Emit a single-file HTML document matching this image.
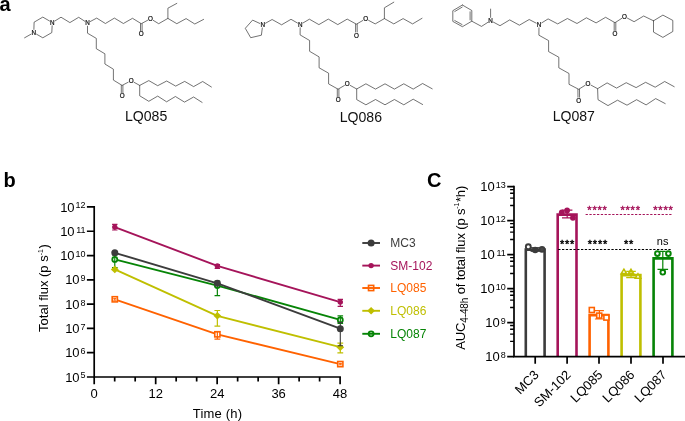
<!DOCTYPE html>
<html lang="en"><head><meta charset="utf-8"><title>Figure</title>
<style>html,body{margin:0;padding:0;background:#fff}body{width:685px;height:421px;overflow:hidden}svg{display:block}text{font-family:"Liberation Sans", Arial, sans-serif}</style>
</head><body>
<svg width="685" height="421" viewBox="0 0 685 421">
<rect width="685" height="421" fill="#fff"/>
<g id="panel-a">
<text x="-0.5" y="10.6" font-size="20" font-weight="bold">a</text>
<path d="M49.53 21.00L42.80 17.10L34.10 22.20L33.89 29.40M36.57 34.20L42.80 37.80L51.80 32.60L52.14 25.80M31.01 34.17L24.60 37.80M55.02 20.91L61.00 17.20L69.90 22.60L78.70 17.30L84.81 21.26M90.32 21.50L96.70 18.10L105.40 23.50L114.40 18.10L123.40 23.50L132.50 18.30L141.30 23.70L147.60 20.28M153.32 20.42L158.70 23.70L167.90 18.40L176.80 23.70L186.10 18.60L194.80 24.00L203.60 19.40M167.90 18.40L167.90 8.20L176.80 3.40M140.50 23.70L140.50 30.90M142.10 23.70L142.10 30.90M87.50 26.20L87.50 33.20L96.30 38.40L96.30 48.70L104.90 53.80L104.90 64.00L113.40 69.20L113.40 80.10L122.10 85.40L128.17 82.23M121.30 85.40L121.30 92.60M122.90 85.40L122.90 92.60M134.00 82.28L139.70 85.40L148.80 80.60L157.70 85.70L166.70 81.00L175.70 86.10L184.70 81.40L193.60 86.60L202.70 81.50L211.40 87.00M139.70 85.40L139.70 95.80L148.80 101.30L157.70 96.10L166.60 101.80L175.40 96.50L184.50 102.10L193.60 97.00L202.10 102.40" fill="none" stroke="#303030" stroke-width="0.68" stroke-linecap="round" stroke-linejoin="round"/>
<text x="52.30" y="24.85" font-size="6.3" text-anchor="middle" fill="#111" stroke="#111" stroke-width="0.22">N</text>
<text x="33.80" y="34.85" font-size="6.3" text-anchor="middle" fill="#111" stroke="#111" stroke-width="0.22">N</text>
<text x="87.50" y="25.25" font-size="6.3" text-anchor="middle" fill="#111" stroke="#111" stroke-width="0.22">N</text>
<text x="150.50" y="20.95" font-size="6.3" text-anchor="middle" fill="#111" stroke="#111" stroke-width="0.22">O</text>
<text x="141.30" y="36.45" font-size="6.3" text-anchor="middle" fill="#111" stroke="#111" stroke-width="0.22">O</text>
<text x="131.10" y="82.95" font-size="6.3" text-anchor="middle" fill="#111" stroke="#111" stroke-width="0.22">O</text>
<text x="122.10" y="98.15" font-size="6.3" text-anchor="middle" fill="#111" stroke="#111" stroke-width="0.22">O</text>
<path d="M259.80 23.45L252.60 20.10L245.30 28.30L250.70 37.70L261.40 35.20L262.30 27.98M265.49 23.23L272.10 19.50L281.60 24.80L291.00 19.30L297.43 23.00M302.96 22.98L309.40 19.20L318.90 24.60L328.30 19.10L337.80 24.60L347.20 19.10L356.40 24.20L362.85 20.46M368.61 20.36L375.20 23.90L384.40 18.60L393.80 23.90L403.10 18.60L412.60 23.90L422.00 18.30M384.40 18.60L384.40 7.80L393.80 2.20M355.60 24.20L355.60 32.00M357.20 24.20L357.20 32.00M300.17 27.80L300.10 34.90L309.60 40.50L309.60 51.30L319.10 56.90L319.10 67.80L328.60 73.20L328.60 83.90L338.10 89.20L344.45 85.47M337.30 89.20L337.30 96.80M338.90 89.20L338.90 96.80M350.19 85.40L356.70 89.00L365.90 83.80L375.50 89.10L385.00 83.80L394.40 89.10L403.80 83.80L413.20 89.10L422.60 83.50L432.20 88.80M356.70 89.00L356.70 99.60L365.90 104.80L375.50 99.50L385.00 104.80L394.40 99.50L403.80 104.80L413.20 99.20L422.60 104.50" fill="none" stroke="#303030" stroke-width="0.68" stroke-linecap="round" stroke-linejoin="round"/>
<text x="262.70" y="27.05" font-size="6.3" text-anchor="middle" fill="#111" stroke="#111" stroke-width="0.22">N</text>
<text x="300.20" y="26.85" font-size="6.3" text-anchor="middle" fill="#111" stroke="#111" stroke-width="0.22">N</text>
<text x="365.70" y="21.05" font-size="6.3" text-anchor="middle" fill="#111" stroke="#111" stroke-width="0.22">O</text>
<text x="356.40" y="37.55" font-size="6.3" text-anchor="middle" fill="#111" stroke="#111" stroke-width="0.22">O</text>
<text x="347.30" y="86.05" font-size="6.3" text-anchor="middle" fill="#111" stroke="#111" stroke-width="0.22">O</text>
<text x="338.10" y="102.35" font-size="6.3" text-anchor="middle" fill="#111" stroke="#111" stroke-width="0.22">O</text>
<path d="M462.40 5.00L471.80 10.50L471.80 21.20L462.40 26.70L452.80 21.40L452.80 10.70L462.40 5.00M454.79 11.50L462.15 7.13M470.10 11.80L470.10 19.90M462.08 24.58L454.76 20.54M471.80 21.20L481.50 26.40L487.90 22.32M490.60 17.40L490.60 9.10M493.41 22.13L500.00 25.70L509.70 19.90L519.40 25.20L529.20 19.50L536.16 23.12M541.71 22.90L548.10 18.90L557.70 23.90L567.40 18.50L577.00 23.50L586.40 17.80L596.10 22.90L605.60 17.30L615.00 22.70L621.72 18.38M627.41 18.15L634.10 21.70L643.70 16.00L653.50 20.80M653.50 20.80L662.90 15.10L672.80 20.40L672.80 31.50L662.90 37.40L653.50 32.10L653.50 20.80M614.20 22.70L614.20 30.50M615.80 22.70L615.80 30.50M538.97 27.80L538.90 35.20L548.60 40.60L548.60 51.60L558.80 57.20L558.80 67.80L569.00 73.50L569.00 84.30L578.70 89.30L585.20 85.25M577.90 89.31L577.97 97.21M579.50 89.29L579.57 97.19M590.90 85.07L597.60 88.70L607.10 82.90L616.60 88.10L626.20 82.70L636.10 87.60L645.60 82.30L655.20 87.20L664.70 81.50L674.20 86.70M597.60 88.70L598.00 99.70L608.00 105.60L617.50 100.20L627.00 105.20L636.60 99.70L646.10 104.90L655.70 98.60L665.20 103.60" fill="none" stroke="#303030" stroke-width="0.68" stroke-linecap="round" stroke-linejoin="round"/>
<text x="490.60" y="22.85" font-size="6.3" text-anchor="middle" fill="#111" stroke="#111" stroke-width="0.22">N</text>
<text x="539.00" y="26.85" font-size="6.3" text-anchor="middle" fill="#111" stroke="#111" stroke-width="0.22">N</text>
<text x="624.50" y="18.85" font-size="6.3" text-anchor="middle" fill="#111" stroke="#111" stroke-width="0.22">O</text>
<text x="615.00" y="36.05" font-size="6.3" text-anchor="middle" fill="#111" stroke="#111" stroke-width="0.22">O</text>
<text x="588.00" y="85.75" font-size="6.3" text-anchor="middle" fill="#111" stroke="#111" stroke-width="0.22">O</text>
<text x="578.80" y="102.75" font-size="6.3" text-anchor="middle" fill="#111" stroke="#111" stroke-width="0.22">O</text>
<text x="146.1" y="120.6" font-size="14.1" text-anchor="middle" fill="#111">LQ085</text>
<text x="360.9" y="122.0" font-size="14.1" text-anchor="middle" fill="#111">LQ086</text>
<text x="573.8" y="120.9" font-size="14.1" text-anchor="middle" fill="#111">LQ087</text>
</g>
<g id="panel-b">
<text x="3.6" y="187.1" font-size="20" font-weight="bold">b</text>
<path d="M94.20 206.12V377.00H340.95" fill="none" stroke="#000" stroke-width="1.70" stroke-linejoin="miter"/>
<path d="M94.20 377.00H86.90M94.20 352.71H86.90M94.20 328.42H86.90M94.20 304.13H86.90M94.20 279.84H86.90M94.20 255.55H86.90M94.20 231.26H86.90M94.20 206.97H86.90M94.20 377.00V384.30M114.69 377.00V381.40M135.18 377.00V381.40M155.68 377.00V384.30M176.17 377.00V381.40M196.66 377.00V381.40M217.15 377.00V384.30M237.64 377.00V381.40M258.14 377.00V381.40M278.63 377.00V384.30M299.12 377.00V381.40M319.61 377.00V381.40M340.10 377.00V384.30" fill="none" stroke="#000" stroke-width="1.70"/>
<text x="79.60" y="381.60" font-size="13" text-anchor="end">10</text><text x="85.60" y="378.40" font-size="9" text-anchor="end">5</text>
<text x="79.60" y="357.31" font-size="13" text-anchor="end">10</text><text x="85.60" y="354.11" font-size="9" text-anchor="end">6</text>
<text x="79.60" y="333.02" font-size="13" text-anchor="end">10</text><text x="85.60" y="329.82" font-size="9" text-anchor="end">7</text>
<text x="79.60" y="308.73" font-size="13" text-anchor="end">10</text><text x="85.60" y="305.53" font-size="9" text-anchor="end">8</text>
<text x="79.60" y="284.44" font-size="13" text-anchor="end">10</text><text x="85.60" y="281.24" font-size="9" text-anchor="end">9</text>
<text x="74.60" y="260.15" font-size="13" text-anchor="end">10</text><text x="85.60" y="256.95" font-size="9" text-anchor="end">10</text>
<text x="74.60" y="235.86" font-size="13" text-anchor="end">10</text><text x="85.60" y="232.66" font-size="9" text-anchor="end">11</text>
<text x="74.60" y="211.57" font-size="13" text-anchor="end">10</text><text x="85.60" y="208.37" font-size="9" text-anchor="end">12</text>
<text x="94.20" y="397.7" font-size="13" text-anchor="middle">0</text>
<text x="155.68" y="397.7" font-size="13" text-anchor="middle">12</text>
<text x="217.15" y="397.7" font-size="13" text-anchor="middle">24</text>
<text x="278.63" y="397.7" font-size="13" text-anchor="middle">36</text>
<text x="340.10" y="397.7" font-size="13" text-anchor="middle">48</text>
<text x="217.6" y="417.5" font-size="13" letter-spacing="0.2" text-anchor="middle">Time (h)</text>
<text transform="translate(48.0 288.0) rotate(-90)" font-size="13" text-anchor="middle">Total flux (p s<tspan font-size="7" dy="-5.5">-1</tspan><tspan dy="5.5" dx="0.6">)</tspan></text>
<path d="M114.79 259.40L217.35 285.60L340.30 319.90" fill="none" stroke="#068406" stroke-width="1.90" stroke-linejoin="round"/>
<circle cx="114.79" cy="259.40" r="2.5" fill="#fff" stroke="#068406" stroke-width="1.8"/>
<circle cx="217.35" cy="285.60" r="2.5" fill="#fff" stroke="#068406" stroke-width="1.8"/>
<circle cx="340.30" cy="319.90" r="2.5" fill="#fff" stroke="#068406" stroke-width="1.8"/>
<path d="M114.79 254.80V267.60M111.99 254.80H117.59M111.99 267.60H117.59" stroke="#068406" stroke-width="1.20" fill="none"/>
<path d="M217.35 281.20V295.60M214.55 281.20H220.15M214.55 295.60H220.15" stroke="#068406" stroke-width="1.20" fill="none"/>
<path d="M340.30 315.90V323.40M337.50 315.90H343.10M337.50 323.40H343.10" stroke="#068406" stroke-width="1.20" fill="none"/>
<path d="M114.79 269.40L217.35 315.80L340.30 347.20" fill="none" stroke="#bfbf00" stroke-width="1.90" stroke-linejoin="round"/>
<path d="M114.79 265.60l3.9 3.8l-3.9 3.8l-3.9 -3.8z" fill="#bfbf00"/>
<path d="M217.35 312.00l3.9 3.8l-3.9 3.8l-3.9 -3.8z" fill="#bfbf00"/>
<path d="M340.30 343.40l3.9 3.8l-3.9 3.8l-3.9 -3.8z" fill="#bfbf00"/>
<path d="M217.35 310.50V326.10M214.45 310.50H220.25M214.45 326.10H220.25" stroke="#bfbf00" stroke-width="1.20" fill="none"/>
<path d="M340.30 343.20V352.80M337.40 343.20H343.20M337.40 352.80H343.20" stroke="#bfbf00" stroke-width="1.20" fill="none"/>
<path d="M114.79 299.30L217.35 334.30L340.30 364.10" fill="none" stroke="#ff6200" stroke-width="1.90" stroke-linejoin="round"/>
<rect x="112.19" y="296.70" width="5.2" height="5.2" fill="#fff" stroke="#ff6200" stroke-width="1.6"/>
<rect x="214.75" y="331.70" width="5.2" height="5.2" fill="#fff" stroke="#ff6200" stroke-width="1.6"/>
<rect x="337.70" y="361.50" width="5.2" height="5.2" fill="#fff" stroke="#ff6200" stroke-width="1.6"/>
<path d="M114.79 298.60V300.20M113.19 298.60H116.39M113.19 300.20H116.39" stroke="#ff6200" stroke-width="1.00" fill="none"/>
<path d="M217.35 331.60V339.20M214.45 331.60H220.25M214.45 339.20H220.25" stroke="#ff6200" stroke-width="1.20" fill="none"/>
<path d="M340.30 363.40V364.80M338.70 363.40H341.90M338.70 364.80H341.90" stroke="#ff6200" stroke-width="1.00" fill="none"/>
<path d="M114.79 227.10L217.35 265.90L340.30 302.10" fill="none" stroke="#a5145a" stroke-width="1.90" stroke-linejoin="round"/>
<circle cx="114.79" cy="227.10" r="2.7" fill="#a5145a"/>
<circle cx="217.35" cy="265.90" r="2.7" fill="#a5145a"/>
<circle cx="340.30" cy="302.10" r="2.7" fill="#a5145a"/>
<path d="M114.79 224.40V230.00M112.09 224.40H117.49M112.09 230.00H117.49" stroke="#a5145a" stroke-width="1.20" fill="none"/>
<path d="M217.35 264.60V268.50M214.65 264.60H220.05M214.65 268.50H220.05" stroke="#a5145a" stroke-width="1.20" fill="none"/>
<path d="M340.30 299.30V306.30M337.60 299.30H343.00M337.60 306.30H343.00" stroke="#a5145a" stroke-width="1.20" fill="none"/>
<path d="M114.79 252.80L217.35 283.30L340.30 328.70" fill="none" stroke="#3c3c3c" stroke-width="1.90" stroke-linejoin="round"/>
<circle cx="114.79" cy="252.80" r="3.5" fill="#3c3c3c"/>
<circle cx="217.35" cy="283.30" r="3.5" fill="#3c3c3c"/>
<circle cx="340.30" cy="328.70" r="3.5" fill="#3c3c3c"/>
<path d="M340.30 322.50V345.80M337.60 322.50H343.00M337.60 345.80H343.00" stroke="#3c3c3c" stroke-width="1.10" fill="none"/>
<path d="M362.3 243.00H380" stroke="#3c3c3c" stroke-width="1.90"/>
<circle cx="371.10" cy="243.00" r="3.5" fill="#3c3c3c"/>
<text x="390.3" y="247.10" font-size="12" fill="#3c3c3c">MC3</text>
<path d="M362.3 265.60H380" stroke="#a5145a" stroke-width="1.90"/>
<circle cx="371.10" cy="265.60" r="2.7" fill="#a5145a"/>
<text x="390.3" y="269.70" font-size="12" fill="#a5145a">SM-102</text>
<rect x="368.50" y="285.40" width="5.2" height="5.2" fill="#fff" stroke="#ff6200" stroke-width="1.6"/>
<path d="M362.3 288.00H380" stroke="#ff6200" stroke-width="1.90"/>
<text x="390.3" y="292.10" font-size="12" fill="#ff6200">LQ085</text>
<path d="M362.3 310.80H380" stroke="#bfbf00" stroke-width="1.90"/>
<path d="M371.10 307.00l3.9 3.8l-3.9 3.8l-3.9 -3.8z" fill="#bfbf00"/>
<text x="390.3" y="314.90" font-size="12" fill="#bfbf00">LQ086</text>
<circle cx="371.10" cy="333.80" r="2.5" fill="#fff" stroke="#068406" stroke-width="1.8"/>
<path d="M362.3 333.80H380" stroke="#068406" stroke-width="1.90"/>
<text x="390.3" y="337.90" font-size="12" fill="#068406">LQ087</text>
</g>
<g id="panel-c">
<text x="426.9" y="187.1" font-size="20" font-weight="bold">C</text>
<path d="M525.80 356.60V249.60H544.60V356.60" fill="none" stroke="#3c3c3c" stroke-width="2.60"/>
<path d="M557.70 356.60V214.60H576.50V356.60" fill="none" stroke="#a5145a" stroke-width="2.60"/>
<path d="M589.60 356.60V315.10H608.40V356.60" fill="none" stroke="#ff6200" stroke-width="2.60"/>
<path d="M621.60 356.60V275.10H640.40V356.60" fill="none" stroke="#bfbf00" stroke-width="2.60"/>
<path d="M653.60 356.60V258.40H672.40V356.60" fill="none" stroke="#068406" stroke-width="2.60"/>
<path d="M514.00 185.85V356.60H685.00" fill="none" stroke="#000" stroke-width="1.70"/>
<path d="M514.00 356.60H507.20M514.00 322.62H507.20M514.00 288.64H507.20M514.00 254.66H507.20M514.00 220.68H507.20M514.00 186.70H507.20M535.20 356.60V363.80M567.10 356.60V363.80M599.00 356.60V363.80M631.00 356.60V363.80M663.00 356.60V363.80" fill="none" stroke="#000" stroke-width="1.70"/>
<path d="M514.00 341.41H510.10M514.00 334.08H510.10M514.00 329.21H510.10M514.00 325.55H510.10M514.00 307.43H510.10M514.00 300.10H510.10M514.00 295.23H510.10M514.00 291.57H510.10M514.00 273.45H510.10M514.00 266.12H510.10M514.00 261.25H510.10M514.00 257.59H510.10M514.00 239.47H510.10M514.00 232.14H510.10M514.00 227.27H510.10M514.00 223.61H510.10M514.00 205.49H510.10M514.00 198.16H510.10M514.00 193.29H510.10M514.00 189.63H510.10" fill="none" stroke="#000" stroke-width="1.4"/>
<text x="499.80" y="361.20" font-size="13" text-anchor="end">10</text><text x="505.80" y="358.00" font-size="9" text-anchor="end">8</text>
<text x="499.80" y="327.22" font-size="13" text-anchor="end">10</text><text x="505.80" y="324.02" font-size="9" text-anchor="end">9</text>
<text x="494.80" y="293.24" font-size="13" text-anchor="end">10</text><text x="505.80" y="290.04" font-size="9" text-anchor="end">10</text>
<text x="494.80" y="259.26" font-size="13" text-anchor="end">10</text><text x="505.80" y="256.06" font-size="9" text-anchor="end">11</text>
<text x="494.80" y="225.28" font-size="13" text-anchor="end">10</text><text x="505.80" y="222.08" font-size="9" text-anchor="end">12</text>
<text x="494.80" y="191.30" font-size="13" text-anchor="end">10</text><text x="505.80" y="188.10" font-size="9" text-anchor="end">13</text>
<text transform="translate(539.60 375.6) rotate(-45)" font-size="13" text-anchor="end">MC3</text>
<text transform="translate(571.50 375.6) rotate(-45)" font-size="13" text-anchor="end">SM-102</text>
<text transform="translate(603.40 375.6) rotate(-45)" font-size="13" text-anchor="end">LQ085</text>
<text transform="translate(635.40 375.6) rotate(-45)" font-size="13" text-anchor="end">LQ086</text>
<text transform="translate(667.40 375.6) rotate(-45)" font-size="13" text-anchor="end">LQ087</text>
<text transform="translate(464.8 349.7) rotate(-90)" font-size="13" letter-spacing="-0.14">AUC<tspan font-size="10" dy="2.8">4-48h</tspan><tspan dy="-2.8"> of total flux (p s</tspan><tspan font-size="7" dy="-5.5">-1</tspan><tspan dy="5.5" dx="0.6">*h)</tspan></text>
<circle cx="528.3" cy="246.7" r="2.45" fill="#fff" stroke="#3c3c3c" stroke-width="1.9"/>
<circle cx="535.2" cy="250.0" r="3.2" fill="#3c3c3c"/>
<circle cx="542.0" cy="249.4" r="2.5" fill="#484848" stroke="#3c3c3c" stroke-width="1.6"/>
<path d="M535.20 247.60V251.40M530.60 247.60H539.80M530.60 251.40H539.80" stroke="#3c3c3c" stroke-width="1.00" fill="none"/>
<circle cx="561.8" cy="212.3" r="2.9" fill="#a5145a"/>
<circle cx="567.1" cy="210.5" r="2.9" fill="#a5145a"/>
<circle cx="572.9" cy="217.8" r="2.9" fill="#a5145a"/>
<path d="M567.20 210.10V217.80M562.00 210.10H572.40M562.00 217.80H572.40" stroke="#a5145a" stroke-width="1.20" fill="none"/>
<rect x="589.30" y="307.50" width="5.0" height="5.0" fill="#fff" stroke="#ff6200" stroke-width="1.6"/>
<rect x="596.70" y="313.10" width="5.0" height="5.0" fill="#fff" stroke="#ff6200" stroke-width="1.6"/>
<rect x="603.90" y="315.10" width="5.0" height="5.0" fill="#fff" stroke="#ff6200" stroke-width="1.6"/>
<path d="M599.40 310.70V319.00M594.90 310.70H603.90M594.90 319.00H603.90" stroke="#ff6200" stroke-width="1.20" fill="none"/>
<path d="M623.90 269.20l2.7 4.4h-5.4z" fill="#fff" stroke="#bfbf00" stroke-width="1.6" stroke-linejoin="miter"/>
<path d="M631.00 269.40l2.7 4.4h-5.4z" fill="#fff" stroke="#bfbf00" stroke-width="1.6" stroke-linejoin="miter"/>
<path d="M638.00 273.80l2.7 4.4h-5.4z" fill="#fff" stroke="#bfbf00" stroke-width="1.6" stroke-linejoin="miter"/>
<path d="M631.00 271.30V277.60M626.20 271.30H635.80M626.20 277.60H635.80" stroke="#bfbf00" stroke-width="1.20" fill="none"/>
<circle cx="657.40" cy="253.60" r="2.35" fill="#fff" stroke="#068406" stroke-width="1.9"/>
<circle cx="668.40" cy="253.60" r="2.35" fill="#fff" stroke="#068406" stroke-width="1.9"/>
<circle cx="662.80" cy="272.30" r="2.35" fill="#fff" stroke="#068406" stroke-width="1.9"/>
<path d="M662.8 251.2V269.4M659.9 251.4H665.7M657.5 269.4H668.1" stroke="#068406" stroke-width="1.2" fill="none"/>
<path d="M558.2 249.5H671" stroke="#000" stroke-width="1" stroke-dasharray="2.3 1.5" fill="none"/>
<path d="M585.6 214.5H672.4" stroke="#a5145a" stroke-width="1" stroke-dasharray="2.3 1.5" fill="none"/>
<text x="567.50" y="248.3" font-size="11" letter-spacing="0.8" stroke="#000" stroke-width="0.4" text-anchor="middle">***</text>
<text x="597.90" y="248.3" font-size="11" letter-spacing="0.8" stroke="#000" stroke-width="0.4" text-anchor="middle">****</text>
<text x="629.00" y="248.3" font-size="11" letter-spacing="0.8" stroke="#000" stroke-width="0.4" text-anchor="middle">**</text>
<text x="662.6" y="245.4" font-size="11" text-anchor="middle">ns</text>
<text x="597.50" y="214.0" font-size="11" letter-spacing="0.8" stroke="#a5145a" stroke-width="0.4" text-anchor="middle" fill="#a5145a">****</text>
<text x="630.60" y="214.0" font-size="11" letter-spacing="0.8" stroke="#a5145a" stroke-width="0.4" text-anchor="middle" fill="#a5145a">****</text>
<text x="663.40" y="214.0" font-size="11" letter-spacing="0.8" stroke="#a5145a" stroke-width="0.4" text-anchor="middle" fill="#a5145a">****</text>
</g>
</svg>
</body></html>
